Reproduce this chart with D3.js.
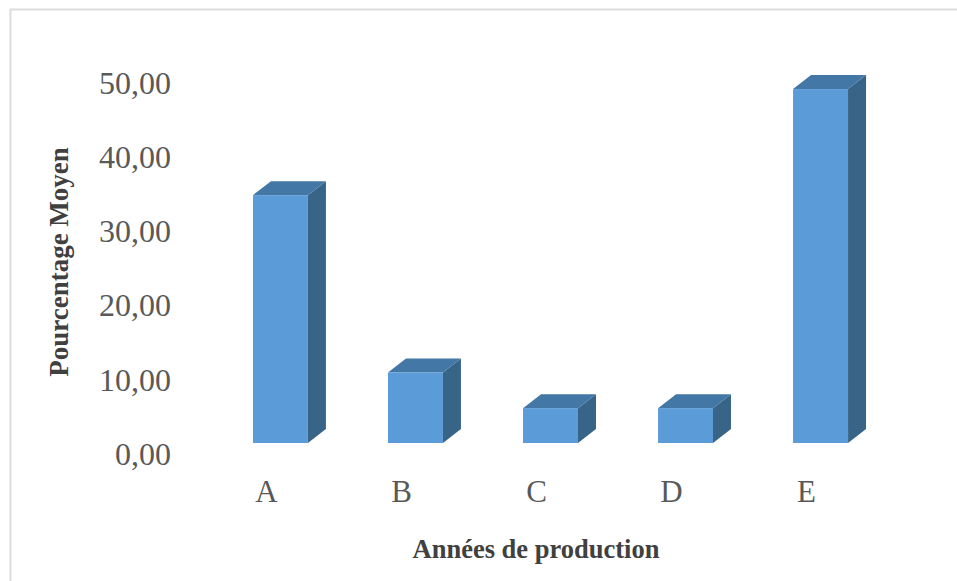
<!DOCTYPE html>
<html>
<head>
<meta charset="utf-8">
<script src="https://cdn.jsdelivr.net/npm/d3@7"></script>
<style>
  html, body { margin: 0; padding: 0; background: #fff; }
  svg { display: block; }
  text { font-family: "Liberation Serif", serif; }
  .tick text { fill: #595959; }
  .axis-title { fill: #404040; font-weight: bold; }
</style>
</head>
<body>
<div id="chart"></div>
<script>
const categories = ['A', 'B', 'C', 'D', 'E'];
const values = [33.4, 9.5, 4.7, 4.7, 47.7];
const yTicks = [0, 10, 20, 30, 40, 50];

const width = 957;
const height = 581;
const depthX = 18;
const depthY = 14;

const svg = d3.select("#chart")
  .append("svg")
    .attr("width", width)
    .attr("height", height);

// chart frame, only the top and left edges are in view
svg.append("path")
    .attr("d", `M10.5,${height} V9.5 H${width}`)
    .attr("fill", "none")
    .attr("stroke", "#dcdcdc")
    .attr("stroke-width", 2);

const x = d3.scaleBand()
    .domain(categories)
    .range([213, 888])
    .paddingInner(0.593)
    .paddingOuter(0.296);

const y = d3.scaleLinear()
    .domain([0, 50])
    .range([443, 72]);

const yAxis = d3.axisLeft(y)
    .tickValues(yTicks)
    .tickSize(0)
    .tickPadding(0)
    .tickFormat(d => d3.format(".2f")(d).replace(".", ","));

svg.append("g")
    .attr("transform", "translate(171,11)")
    .call(yAxis)
    .call(g => g.select(".domain").remove())
    .selectAll("text")
    .attr("font-size", 32);

const xAxis = d3.axisBottom(x)
    .tickSize(0)
    .tickPadding(0);

svg.append("g")
    .attr("transform", "translate(-14,480)")
    .call(xAxis)
    .call(g => g.select(".domain").remove())
    .selectAll("text")
    .attr("font-size", 31);

const bars = svg.selectAll(".bar")
  .data(categories.map((c, i) => ({ name: c, value: values[i] })))
  .enter().append("g")
    .attr("class", "bar");

// side face
bars.append("path")
    .attr("fill", "#386487")
    .attr("d", d => {
      const r = x(d.name) + x.bandwidth();
      return `M${r},${y(d.value)} l${depthX},${-depthY} V${y(0) - depthY} l${-depthX},${depthY} Z`;
    });

// top face
bars.append("path")
    .attr("fill", "#4377a5")
    .attr("d", d => {
      const l = x(d.name);
      return `M${l},${y(d.value)} l${depthX},${-depthY} h${x.bandwidth()} l${-depthX},${depthY} Z`;
    });

// front face
bars.append("rect")
    .attr("fill", "#5b9bd8")
    .attr("x", d => x(d.name))
    .attr("y", d => y(d.value))
    .attr("width", x.bandwidth())
    .attr("height", d => y(0) - y(d.value));

svg.append("text")
    .attr("class", "axis-title")
    .attr("text-anchor", "middle")
    .attr("font-size", 26.5)
    .attr("x", 536)
    .attr("y", 558)
    .text("Années de production");

svg.append("text")
    .attr("class", "axis-title")
    .attr("text-anchor", "middle")
    .attr("font-size", 27)
    .attr("transform", "translate(68,262) rotate(-90)")
    .text("Pourcentage Moyen");
</script>
</body>
</html>
